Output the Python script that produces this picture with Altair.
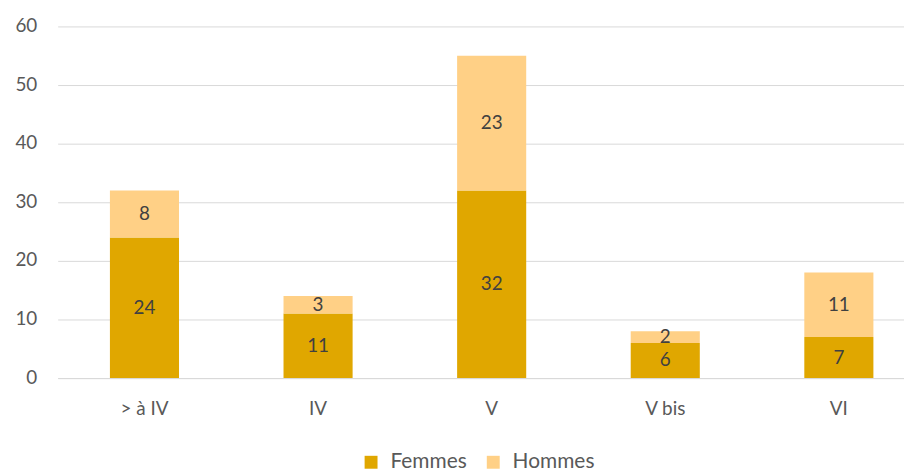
import altair as alt
import pandas as pd

categories = ["> à IV", "IV", "V", "V bis", "VI"]
femmes = [24, 11, 32, 6, 7]
hommes = [8, 3, 23, 2, 11]
series = ["Femmes", "Hommes"]
colors = ["#E0A700", "#FFD086"]

rows = []
for i, c in enumerate(categories):
    rows.append({"cat": c, "serie": "Femmes", "value": femmes[i], "order": 0})
    rows.append({"cat": c, "serie": "Hommes", "value": hommes[i], "order": 1})
df = pd.DataFrame(rows)

FONT = "Lato"

x = alt.X("cat:N", sort=categories, title=None,
          scale=alt.Scale(range=[0, 873.8], paddingInner=0.602, paddingOuter=0.301),
          axis=alt.Axis(labelAngle=0, ticks=False, labelPadding=22, labelFontSize=19,
                        labelColor="#595959", labelFont=FONT, domainColor="#D9D9D9",
                        domainWidth=1, grid=False))

base = alt.Chart(df).transform_stack(
    stack="value", groupby=["cat"], as_=["v0", "v1"],
    sort=[alt.SortField("order", order="ascending")]
).transform_calculate(mid="(datum.v0 + datum.v1) / 2")

bars = base.mark_bar().encode(
    x=x,
    y=alt.Y("v0:Q", title=None,
            scale=alt.Scale(domain=[0, 60], nice=False),
            axis=alt.Axis(values=[0, 10, 20, 30, 40, 50, 60], ticks=False, domain=False,
                          labelPadding=21, labelFontSize=19, labelColor="#595959",
                          labelFont=FONT, labelOffset=-1,
                          gridColor="#D9D9D9", gridWidth=1)),
    y2="v1:Q",
    color=alt.Color("serie:N", scale=alt.Scale(domain=series, range=colors),
                    legend=alt.Legend(title=None, orient="none", direction="horizontal",
                                      legendX=305, legendY=428, symbolType="square",
                                      symbolSize=169, symbolStrokeWidth=0,
                                      labelFontSize=21, labelColor="#595959",
                                      labelFont=FONT, labelOffset=9, columnPadding=16)),
)

labels = base.mark_text(font=FONT, fontSize=19, color="#404040", baseline="middle").encode(
    x=alt.X("cat:N", sort=categories),
    y=alt.Y("mid:Q"),
    text="value:Q",
)

chart = (bars + labels).properties(
    width=852, height=354,
    autosize=alt.AutoSizeParams(type="none"),
    padding={"left": 50, "top": 17, "right": 0, "bottom": 95},
).configure_view(stroke=None)

chart.save("out.html", embed_options={"renderer": "svg", "actions": False})
